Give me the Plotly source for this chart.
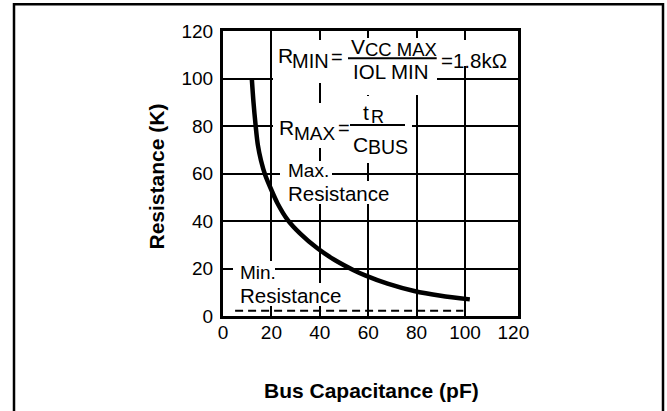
import plotly.graph_objects as go

# ---- data ----
cap_pf = [11.9, 12.6, 13.5, 14.4, 15.7, 17.4, 19.6, 22.5, 26.7, 31.8, 39, 46, 54, 59, 68, 79, 90, 102]
r_max_k = [100, 90, 80, 72, 65.5, 59.5, 54, 47.5, 40.5, 34.8, 28.5, 23.7, 19.3, 17, 13.6, 10.5, 8.5, 7.0]
min_cap_pf = [5, 99.3]
min_res_k = [2.2, 2.2]
x_ticks = [0, 20, 40, 60, 80, 100, 120]
y_ticks = [0, 20, 40, 60, 80, 100, 120]
x_grid = [20, 40, 60, 80, 100]
y_grid = [20, 40, 60, 80, 100]

# ---- geometry ----
W, H = 667, 411
L, R, T, B = 223, 149, 31, 95
PW, PH = W - L - R, H - T - B
XMAX, YMAX = 121.9, 120
FONT = "Liberation Sans, Arial, Helvetica, sans-serif"


def dx(px):
    return (px - L) / PW * XMAX


def dy(py):
    return (H - B - py) / PH * YMAX


def pxp(px):
    return (px - L) / PW


def pyp(py):
    return (H - B - py) / PH


fig = go.Figure()
fig.add_trace(go.Scatter(x=cap_pf, y=r_max_k, mode="lines",
                         line=dict(color="black", width=4.5, shape="spline", smoothing=0.8),
                         hoverinfo="skip", showlegend=False))
fig.add_trace(go.Scatter(x=min_cap_pf, y=min_res_k, mode="lines",
                         line=dict(color="black", width=2, dash="8px,5px"),
                         hoverinfo="skip", showlegend=False))

# white-out boxes behind the labels (above grid, below curve)
boxes = [
    (273, 40, 346, 83), (346, 38, 437, 95), (437, 40, 512, 66),
    (273, 103, 346, 148), (346, 96, 412, 163),
    (280, 161, 332, 181), (284, 181, 392, 204),
    (233, 261, 275, 283), (236, 283, 345, 306),
]
shapes = []
for x0, y0, x1, y1 in boxes:
    shapes.append(dict(type="rect", xref="x", yref="y", layer="between",
                       x0=dx(x0), x1=dx(x1), y0=dy(y1), y1=dy(y0),
                       fillcolor="white", line=dict(width=0)))
# fraction bars
for x0, x1, yb in [(348, 436.7, 58.3), (350, 405, 125)]:
    shapes.append(dict(type="line", xref="x", yref="y", layer="above",
                       x0=dx(x0), x1=dx(x1), y0=dy(yb), y1=dy(yb),
                       line=dict(color="black", width=2)))
# outer frame
shapes.append(dict(type="rect", xref="paper", yref="paper", layer="above",
                   x0=pxp(14), x1=pxp(663), y0=pyp(440), y1=pyp(4.3),
                   line=dict(color="black", width=2.5), fillcolor="rgba(0,0,0,0)"))

anns = []


def txt(s, left, cy, size):
    anns.append(dict(text=s, xref="paper", yref="paper", x=pxp(left), y=pyp(cy),
                     xanchor="left", yanchor="middle", showarrow=False, borderpad=0,
                     font=dict(family=FONT, size=size, color="black")))


txt("R", 276.5, 55.5, 21)
txt("MIN", 291, 60.5, 20)
txt("=", 330, 57, 20)
txt("V", 350, 46, 21)
txt("CC MAX", 364, 49.5, 18.5)
txt("IOL MIN", 351.7, 71.5, 20.5)
txt("=1.8kΩ", 440, 60, 20.5)

txt("R", 278, 127.5, 21)
txt("MAX", 293, 133.5, 19)
txt("=", 337, 128, 20)
txt("t", 362, 112, 21)
txt("R", 370, 117, 18)
txt("C", 351.7, 144, 21)
txt("BUS", 366.7, 146.7, 19.5)

txt("Max.", 286.7, 170, 19)
txt("Resistance", 286.7, 193, 20.5)
txt("Min.", 238.5, 272.5, 19)
txt("Resistance", 239, 295.5, 20.5)

anns.append(dict(text="<b>Resistance (K)</b>", xref="paper", yref="paper",
                 x=pxp(156), y=pyp(176.5), textangle=-90, showarrow=False,
                 xanchor="center", yanchor="middle",
                 font=dict(family=FONT, size=21, color="black")))
anns.append(dict(text="<b>Bus Capacitance (pF)</b>", xref="paper", yref="paper",
                 x=pxp(371), y=pyp(390.5), showarrow=False,
                 xanchor="center", yanchor="middle",
                 font=dict(family=FONT, size=21, color="black")))

axis_common = dict(showgrid=False, zeroline=False, showline=True, linecolor="black",
                   linewidth=3, mirror=True, ticks="",
                   tickfont=dict(family=FONT, size=19, color="black"))

fig.update_layout(
    width=W, height=H, margin=dict(l=L, r=R, t=T, b=B),
    paper_bgcolor="white", plot_bgcolor="white",
    xaxis=dict(range=[0, XMAX], tickvals=x_ticks, ticktext=[str(v) for v in x_ticks],
               ticklabelstandoff=-3,
               minor=dict(tickvals=x_grid, showgrid=True, gridcolor="black", gridwidth=2, ticks=""),
               **axis_common),
    yaxis=dict(range=[0, YMAX], tickvals=y_ticks, ticktext=[str(v) for v in y_ticks],
               ticklabelstandoff=3,
               minor=dict(tickvals=y_grid, showgrid=True, gridcolor="black", gridwidth=2, ticks=""),
               **axis_common),
    shapes=shapes, annotations=anns, showlegend=False,
)
fig.write_html("out.html", config={"displayModeBar": False},
               post_script="document.body.style.margin='0';")
